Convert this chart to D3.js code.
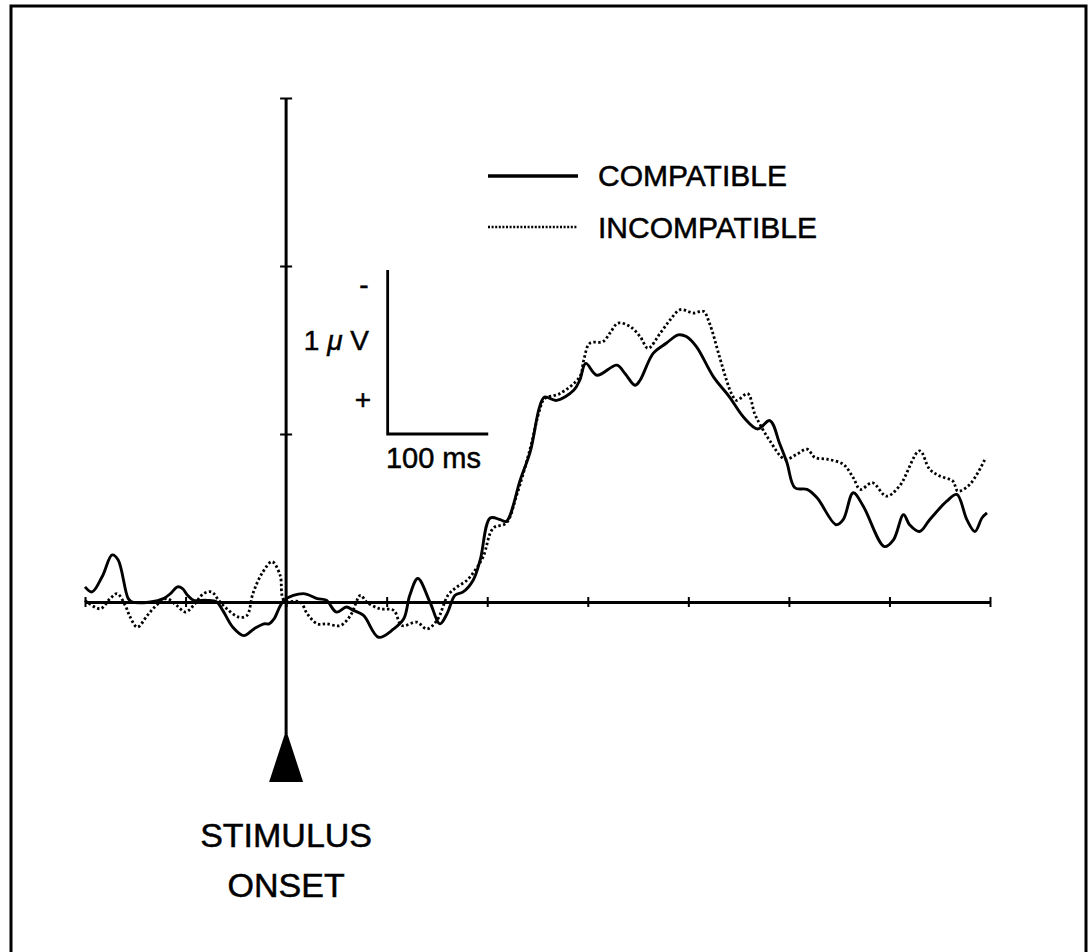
<!DOCTYPE html>
<html>
<head>
<meta charset="utf-8">
<script src="https://cdn.jsdelivr.net/npm/d3@7"></script>
<style>
  html, body { margin: 0; padding: 0; background: #fff; }
  svg { display: block; }
  text { font-family: "Liberation Sans", Arial, sans-serif; fill: #000; stroke: #000; stroke-width: 0.5px; }
</style>
</head>
<body>
<svg id="chart" width="1088" height="952"></svg>
<script>
// Grand-average ERP waveforms: time (ms) relative to stimulus onset, amplitude (µV, negative up)
const compatibleTime = [-200,-193,-183,-173,-167,-157,-153,-135,-122,-115,-108,-103,-98,-92,-79,-69,-63,-53,-42,-32,-22,-17,-12,-2,17,31,40,50,60,67,77,92,107,117,123,131,143,153,160,168,176,186,193,203,213,219,233,243,252,257,269,286,292,298,309,329,337,347,352,365,378,390,398,408,425,441,455,469,481,491,498,506,518,528,547,554,564,574,595,604,614,620,630,640,657,667,677,685,692,697];
const compatibleAmp = [-0.09,-0.06,-0.15,-0.28,-0.25,-0.02,0.00,0.00,-0.02,-0.05,-0.09,-0.08,-0.04,-0.01,-0.01,0.00,0.05,0.15,0.20,0.16,0.13,0.13,0.10,-0.01,-0.05,-0.02,-0.01,0.06,0.03,0.05,0.08,0.21,0.16,0.10,-0.04,-0.14,0.00,0.13,0.07,-0.04,-0.06,-0.13,-0.25,-0.50,-0.49,-0.48,-0.73,-0.90,-1.16,-1.22,-1.20,-1.26,-1.32,-1.42,-1.35,-1.41,-1.36,-1.29,-1.32,-1.48,-1.54,-1.59,-1.58,-1.52,-1.34,-1.22,-1.10,-1.03,-1.08,-0.94,-0.83,-0.68,-0.67,-0.62,-0.46,-0.49,-0.65,-0.57,-0.33,-0.37,-0.52,-0.46,-0.42,-0.49,-0.60,-0.64,-0.49,-0.42,-0.50,-0.53];

const incompatibleTime = [-200,-185,-175,-168,-160,-155,-148,-138,-129,-119,-109,-100,-92,-82,-74,-67,-59,-47,-39,-33,-24,-14,-6,-2,14,21,31,40,54,64,74,80,93,107,115,130,140,150,161,170,180,188,196,206,219,229,243,252,257,272,292,296,302,315,322,330,342,352,360,372,382,392,405,415,421,431,438,443,448,459,466,471,481,496,508,518,526,538,554,564,571,583,597,610,630,640,650,663,668,680,695];
const incompatibleAmp = [-0.01,0.04,-0.02,-0.05,0.02,0.09,0.15,0.08,0.02,-0.02,0.02,0.06,0.02,-0.05,-0.06,-0.01,0.04,0.09,0.08,-0.05,-0.17,-0.24,-0.16,-0.01,0.00,0.07,0.13,0.13,0.14,0.08,-0.04,0.00,0.04,0.05,0.14,0.12,0.16,0.11,-0.04,-0.09,-0.13,-0.19,-0.27,-0.44,-0.47,-0.63,-0.92,-1.14,-1.21,-1.24,-1.34,-1.44,-1.54,-1.55,-1.60,-1.66,-1.64,-1.58,-1.51,-1.60,-1.68,-1.74,-1.72,-1.73,-1.66,-1.46,-1.32,-1.24,-1.20,-1.24,-1.12,-1.06,-0.96,-0.85,-0.88,-0.91,-0.86,-0.85,-0.82,-0.74,-0.67,-0.71,-0.63,-0.69,-0.90,-0.79,-0.75,-0.72,-0.66,-0.70,-0.85];

const timeTicks = [-200,-100,0,100,200,300,400,500,600,700];
const ampTicks = [-3,-2,-1];
const seriesNames = ["COMPATIBLE", "INCOMPATIBLE"];
const scaleBarLabels = { amp: ["-", "1 ", "μ", " V", "+"], time: "100 ms" };
const onsetLabel = ["STIMULUS", "ONSET"];

const svg = d3.select("#chart");

// page frame
svg.append("rect")
  .attr("x", 11).attr("y", 6).attr("width", 1075).attr("height", 960)
  .attr("fill", "#fff").attr("stroke", "#000").attr("stroke-width", 3);

// scales: 1 ms ≈ 1 px, 1 µV ≈ 168 px, negative polarity plotted upward
const x = d3.scaleLinear().domain([-200, 700]).range([85, 990]);
const y = d3.scaleLinear().domain([-3, 0]).range([98, 602]);

// time axis along the zero line, with cross ticks
const xAxis = svg.append("g")
  .attr("transform", `translate(0,${y(0)})`)
  .call(d3.axisBottom(x).tickValues(timeTicks).tickSize(5).tickSizeOuter(0).tickFormat(""));
xAxis.select(".domain").attr("stroke", "#000").attr("stroke-width", 3);
xAxis.selectAll(".tick line").attr("y1", -5).attr("y2", 5).attr("stroke", "#000").attr("stroke-width", 2);

// amplitude axis at stimulus onset, extended down to the onset marker
const arrowTip = 730, arrowBase = 782, arrowHalf = 17;
svg.append("line")
  .attr("x1", x(0)).attr("x2", x(0))
  .attr("y1", y(-3)).attr("y2", arrowTip + 4)
  .attr("stroke", "#000").attr("stroke-width", 3);
const yAxis = svg.append("g")
  .attr("transform", `translate(${x(0)},0)`)
  .call(d3.axisLeft(y).tickValues(ampTicks).tickSize(6).tickSizeOuter(0).tickFormat(""));
yAxis.select(".domain").remove();
yAxis.selectAll(".tick line").attr("x1", 6).attr("x2", -6).attr("stroke", "#000").attr("stroke-width", 2);

// onset marker
svg.append("path")
  .attr("d", `M${x(0)},${arrowTip} L${x(0) + arrowHalf},${arrowBase} L${x(0) - arrowHalf},${arrowBase} Z`)
  .attr("fill", "#000");

// waveforms
const line = d3.line()
  .x(d => x(d[0]))
  .y(d => y(d[1]))
  .curve(d3.curveCatmullRom.alpha(0.5));

const compatible = d3.zip(compatibleTime, compatibleAmp);
const incompatible = d3.zip(incompatibleTime, incompatibleAmp);

svg.append("path")
  .datum(incompatible)
  .attr("d", line)
  .attr("fill", "none")
  .attr("stroke", "#000")
  .attr("stroke-width", 2.8)
  .attr("stroke-dasharray", "2.4,2.4");

svg.append("path")
  .datum(compatible)
  .attr("d", line)
  .attr("fill", "none")
  .attr("stroke", "#000")
  .attr("stroke-width", 2.9)
  .attr("stroke-linejoin", "round");

// calibration bar: 1 µV by 100 ms
const barX = x(100) + 1, barTop = y(-1) - 165;
const barBottom = y(-1);
svg.append("path")
  .attr("d", `M${barX},${barTop + 1} V${barBottom} H${x(200) + 1}`)
  .attr("fill", "none").attr("stroke", "#000").attr("stroke-width", 2.8);

svg.append("text").attr("x", 364).attr("y", 294).attr("text-anchor", "middle")
  .style("font-size", "28px").text(scaleBarLabels.amp[0]);
const uv = svg.append("text").attr("x", 369).attr("y", 350).attr("text-anchor", "end")
  .style("font-size", "28px");
uv.append("tspan").text(scaleBarLabels.amp[1]);
uv.append("tspan").style("font-style", "italic").text(scaleBarLabels.amp[2]);
uv.append("tspan").text(scaleBarLabels.amp[3]);
svg.append("text").attr("x", 363).attr("y", 409).attr("text-anchor", "middle")
  .style("font-size", "28px").text(scaleBarLabels.amp[4]);
svg.append("text").attr("x", (barX + x(200)) / 2 - 4).attr("y", 468).attr("text-anchor", "middle")
  .style("font-size", "29px").text(scaleBarLabels.time);

// legend
const legend = svg.append("g");
const legendRows = [
  { name: seriesNames[0], y: 176, dash: null, width: 3.6, textY: 186 },
  { name: seriesNames[1], y: 227, dash: "2,1.6", width: 2.4, textY: 238 }
];
legendRows.forEach(r => {
  legend.append("line")
    .attr("x1", 488).attr("x2", 578).attr("y1", r.y).attr("y2", r.y)
    .attr("stroke", "#000").attr("stroke-width", r.width)
    .attr("stroke-dasharray", r.dash);
  legend.append("text").attr("x", 598).attr("y", r.textY)
    .style("font-size", "30px").text(r.name);
});

// onset caption
svg.append("text").attr("x", x(0)).attr("y", 847).attr("text-anchor", "middle")
  .style("font-size", "34px").text(onsetLabel[0]);
svg.append("text").attr("x", x(0)).attr("y", 897).attr("text-anchor", "middle")
  .style("font-size", "34px").text(onsetLabel[1]);
</script>
</body>
</html>
